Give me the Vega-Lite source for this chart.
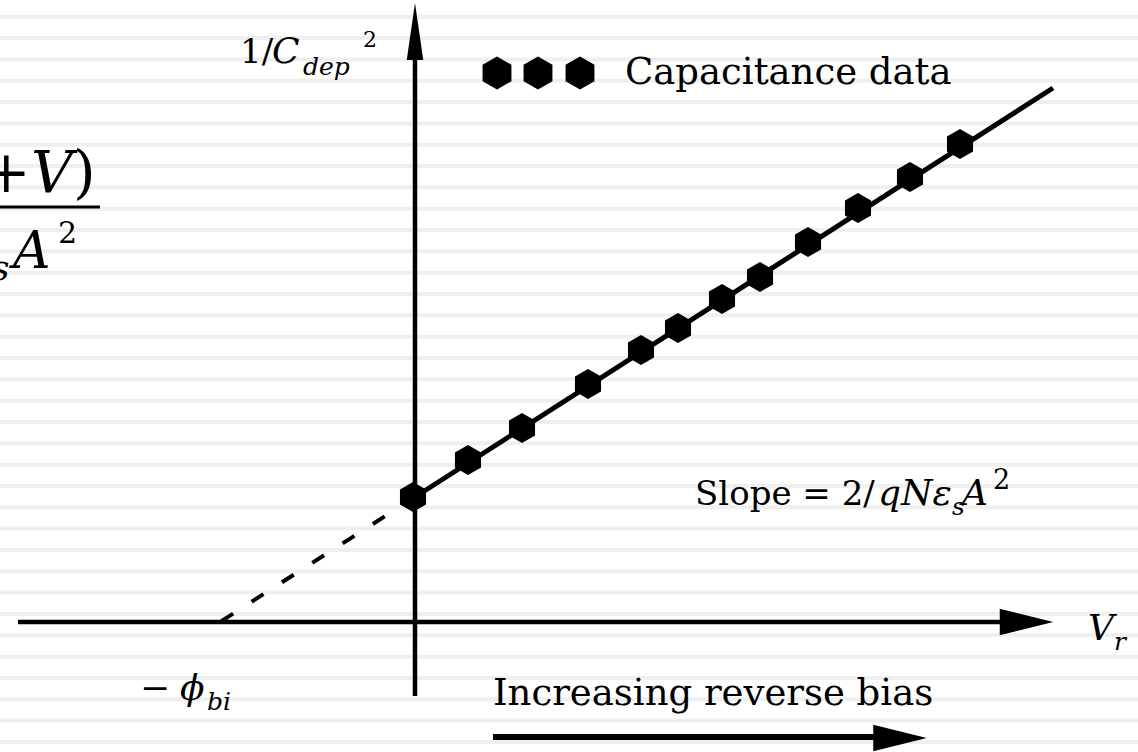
{
 "$schema": "https://vega.github.io/schema/vega-lite/v6.json",
 "width": 1138, "height": 752,
 "autosize": {"type": "none"},
 "padding": 0,
 "background": "white",
 "config": {"view": {"stroke": null}, "axis": {"disable": true}, "text": {"font": "DejaVu Serif", "color": "black", "align": "left", "baseline": "alphabetic"}},
 "datasets": {
  "stripes": [{"y":6.053},{"y":5.84},{"y":5.626},{"y":5.413},{"y":5.2},{"y":4.986},{"y":4.773},{"y":4.56},{"y":4.347},{"y":4.133},{"y":3.92},{"y":3.707},{"y":3.493},{"y":3.28},{"y":3.067},{"y":2.853},{"y":2.64},{"y":2.427},{"y":2.213},{"y":2.0},{"y":1.787},{"y":1.573},{"y":1.36},{"y":1.147},{"y":0.934},{"y":0.72},{"y":0.507},{"y":0.294},{"y":0.08},{"y":-0.133},{"y":-0.347},{"y":-0.56},{"y":-0.773},{"y":-0.986},{"y":-1.2}],
  "axes": [{"x":-3.97,"x2":5.9,"y":0,"y2":0},{"x":0,"x2":0,"y":-0.74,"y2":5.67}],
  "biasArrow": [{"x":0.78,"x2":4.65,"y":-1.15,"y2":-1.15}],
  "fraction": [{"x":-4.2,"x2":-3.15,"y":4.15,"y2":4.15}],
  "headsH": [{"x":6.115,"y":0},{"x":4.85,"y":-1.16}],
  "headsV": [{"x":0,"y":5.905}],
  "fit": [{"x":0,"y":1.25},{"x":6.38,"y":5.34}],
  "extrap": [{"x":0,"y":1.25},{"x":-1.95,"y":0}],
  "pts": [{"x":-0.02,"y":1.25},{"x":0.53,"y":1.62},{"x":1.07,"y":1.94},{"x":1.73,"y":2.38},{"x":2.26,"y":2.72},{"x":2.63,"y":2.94},{"x":3.07,"y":3.23},{"x":3.45,"y":3.45},{"x":3.93,"y":3.8},{"x":4.43,"y":4.14},{"x":4.95,"y":4.45},{"x":5.45,"y":4.78}],
  "legendPts": [{"x":0.82,"y":5.49},{"x":1.23,"y":5.49},{"x":1.65,"y":5.49}],
  "up37": [{"x":2.1,"y":5.38,"t":"Capacitance data"},{"x":0.78,"y":-0.83,"t":"Increasing reverse bias"}],
  "up36": [{"x":-2.75,"y":-0.78,"t":"−"}],
  "up34": [{"x":2.8,"y":1.17,"t":"Slope = 2/"},{"x":-1.75,"y":5.59,"t":"1/"}],
  "it36": [{"x":4.63,"y":1.17,"t":"qNε"},{"x":5.47,"y":1.17,"t":"A"},{"x":6.73,"y":-0.18,"t":"V"},{"x":-2.35,"y":-0.78,"t":"ϕ"},{"x":-1.43,"y":5.59,"t":"C"}],
  "sub25": [{"x":5.37,"y":1.07,"t":"s"},{"x":6.99,"y":-0.28,"t":"r"},{"x":-2.08,"y":-0.88,"t":"bi"},{"x":-1.12,"y":5.47,"t":"dep"}],
  "sup22": [{"x":-0.52,"y":5.75,"t":"2"}],
  "sup26": [{"x":5.78,"y":1.33,"t":"2"}],
  "up58": [{"x":-4.33,"y":4.3,"t":"+"},{"x":-3.42,"y":4.3,"t":")"}],
  "it58": [{"x":-3.84,"y":4.3,"t":"V"}],
  "it52": [{"x":-4.02,"y":3.54,"t":"A"}],
  "up30": [{"x":-3.57,"y":3.79,"t":"2"}],
  "it36s": [{"x":-4.24,"y":3.42,"t":"s"}]
 },
 "layer": [
  {"data":{"name":"stripes"},"mark":{"type":"rule","color":"#efefef","strokeWidth":4},
   "encoding":{"y":{"field":"y","type":"quantitative","scale":{"domain":[-1.3,6.22],"nice":false,"zero":false}}}},
  {"data":{"name":"axes"},"mark":{"type":"rule","color":"black","strokeWidth":4.5},
   "encoding":{"x":{"field":"x","type":"quantitative","scale":{"domain":[-4.15,7.23],"nice":false,"zero":false}},"x2":{"field":"x2"},
    "y":{"field":"y","type":"quantitative","scale":{"domain":[-1.3,6.22],"nice":false,"zero":false}},"y2":{"field":"y2"}}},
  {"data":{"name":"biasArrow"},"mark":{"type":"rule","color":"black","strokeWidth":6},
   "encoding":{"x":{"field":"x","type":"quantitative"},"x2":{"field":"x2"},"y":{"field":"y","type":"quantitative"},"y2":{"field":"y2"}}},
  {"data":{"name":"fraction"},"mark":{"type":"rule","color":"black","strokeWidth":3},
   "encoding":{"x":{"field":"x","type":"quantitative"},"x2":{"field":"x2"},"y":{"field":"y","type":"quantitative"},"y2":{"field":"y2"}}},
  {"data":{"name":"headsH"},"mark":{"type":"point","filled":true,"color":"black","opacity":1,"size":2862,"shape":"M1,0L-1,-0.5L-1,0.5Z"},
   "encoding":{"x":{"field":"x","type":"quantitative"},"y":{"field":"y","type":"quantitative"}}},
  {"data":{"name":"headsV"},"mark":{"type":"point","filled":true,"color":"black","opacity":1,"size":3249,"shape":"M0,-1L0.29,1L-0.29,1Z"},
   "encoding":{"x":{"field":"x","type":"quantitative"},"y":{"field":"y","type":"quantitative"}}},
  {"data":{"name":"fit"},"mark":{"type":"line","color":"black","strokeWidth":5},
   "encoding":{"x":{"field":"x","type":"quantitative"},"y":{"field":"y","type":"quantitative"}}},
  {"data":{"name":"extrap"},"mark":{"type":"line","color":"black","strokeWidth":4,"strokeDash":[14,22]},
   "encoding":{"x":{"field":"x","type":"quantitative"},"y":{"field":"y","type":"quantitative"},"order":{"field":"y","sort":"descending"}}},
  {"data":{"name":"pts"},"mark":{"type":"point","filled":true,"color":"black","opacity":1,"size":900,"shape":"M0,-1L0.87,-0.5L0.87,0.5L0,1L-0.87,0.5L-0.87,-0.5Z"},
   "encoding":{"x":{"field":"x","type":"quantitative"},"y":{"field":"y","type":"quantitative"}}},
  {"data":{"name":"legendPts"},"mark":{"type":"point","filled":true,"color":"black","opacity":1,"size":1100,"shape":"M0,-1L0.87,-0.5L0.87,0.5L0,1L-0.87,0.5L-0.87,-0.5Z"},
   "encoding":{"x":{"field":"x","type":"quantitative"},"y":{"field":"y","type":"quantitative"}}},
  {"data":{"name":"up37"},"mark":{"type":"text","fontSize":37},
   "encoding":{"x":{"field":"x","type":"quantitative"},"y":{"field":"y","type":"quantitative"},"text":{"field":"t"}}},
  {"data":{"name":"up36"},"mark":{"type":"text","fontSize":36},
   "encoding":{"x":{"field":"x","type":"quantitative"},"y":{"field":"y","type":"quantitative"},"text":{"field":"t"}}},
  {"data":{"name":"up34"},"mark":{"type":"text","fontSize":34},
   "encoding":{"x":{"field":"x","type":"quantitative"},"y":{"field":"y","type":"quantitative"},"text":{"field":"t"}}},
  {"data":{"name":"it36"},"mark":{"type":"text","fontStyle":"italic","fontSize":36},
   "encoding":{"x":{"field":"x","type":"quantitative"},"y":{"field":"y","type":"quantitative"},"text":{"field":"t"}}},
  {"data":{"name":"sub25"},"mark":{"type":"text","fontStyle":"italic","fontSize":25},
   "encoding":{"x":{"field":"x","type":"quantitative"},"y":{"field":"y","type":"quantitative"},"text":{"field":"t"}}},
  {"data":{"name":"sup22"},"mark":{"type":"text","fontSize":22},
   "encoding":{"x":{"field":"x","type":"quantitative"},"y":{"field":"y","type":"quantitative"},"text":{"field":"t"}}},
  {"data":{"name":"sup26"},"mark":{"type":"text","fontSize":27},
   "encoding":{"x":{"field":"x","type":"quantitative"},"y":{"field":"y","type":"quantitative"},"text":{"field":"t"}}},
  {"data":{"name":"up58"},"mark":{"type":"text","fontSize":58},
   "encoding":{"x":{"field":"x","type":"quantitative"},"y":{"field":"y","type":"quantitative"},"text":{"field":"t"}}},
  {"data":{"name":"it58"},"mark":{"type":"text","fontStyle":"italic","fontSize":58},
   "encoding":{"x":{"field":"x","type":"quantitative"},"y":{"field":"y","type":"quantitative"},"text":{"field":"t"}}},
  {"data":{"name":"it52"},"mark":{"type":"text","fontStyle":"italic","fontSize":52},
   "encoding":{"x":{"field":"x","type":"quantitative"},"y":{"field":"y","type":"quantitative"},"text":{"field":"t"}}},
  {"data":{"name":"up30"},"mark":{"type":"text","fontSize":30},
   "encoding":{"x":{"field":"x","type":"quantitative"},"y":{"field":"y","type":"quantitative"},"text":{"field":"t"}}},
  {"data":{"name":"it36s"},"mark":{"type":"text","fontStyle":"italic","fontSize":36},
   "encoding":{"x":{"field":"x","type":"quantitative"},"y":{"field":"y","type":"quantitative"},"text":{"field":"t"}}}
 ]
}
